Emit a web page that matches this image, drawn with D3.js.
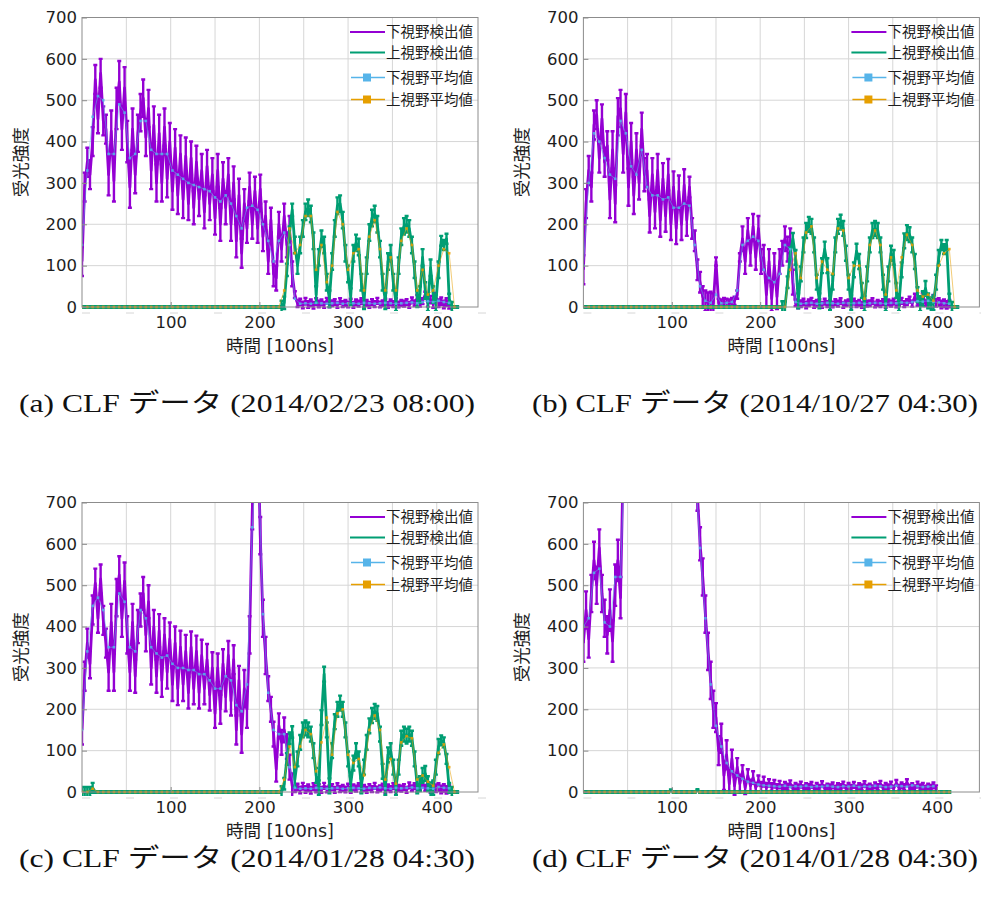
<!DOCTYPE html>
<html>
<head>
<meta charset="utf-8">
<script src="https://cdn.jsdelivr.net/npm/d3@7"></script>
<style>
  body { margin: 0; background: #fff; }
  svg { display: block; }
</style>
</head>
<body>
<svg id="chart"></svg>
<script>
var xStep = 3;     // detected values: one every 3 [100ns]
var avgStep = 6;   // averages: one every 6 [100ns]
var errStep = 15;  // error bar half widths: one every 15 [100ns]

var yTicks = [0, 100, 200, 300, 400, 500, 600, 700];
var xTicks = [100, 200, 300, 400];
var legendNames = ['下視野検出値', '上視野検出値', '下視野平均値', '上視野平均値'];
var captions = [
    '(a) CLF データ (2014/02/23 08:00)',
    '(b) CLF データ (2014/10/27 04:30)',
    '(c) CLF データ (2014/01/28 04:30)',
    '(d) CLF データ (2014/01/28 04:30)'
];

// (a) 2014/02/23 08:00
var lowA = [
    110,290,350,320,400,550,455,565,450,430,
    320,425,305,480,545,430,530,400,290,430,
    320,420,470,505,410,480,330,440,300,420,
    300,435,310,400,280,385,270,370,260,365,
    250,360,240,350,260,330,230,340,250,320,
    215,330,200,310,240,320,200,300,160,270,
    130,250,190,290,200,280,190,285,170,220,
    110,210,80,70,200,140,220,150,190,80,
    30,8,
    12,5,14,6,10,4,13,7,11,5,
    15,6,9,12,5,14,7,10,6,13,
    5,11,8,14,6,10,5,12,7,15,
    6,9,13,5,11,7,14,6,10,8,
    12,5,16,9,22,8,14,30,10,18,
    7,25,9,14,6,12,5
];
var upA = [
    0,0,0,0,0,0,0,0,0,0, 0,0,0,0,0,0,0,0,0,0, 0,0,0,0,0,0,0,0,0,0,
    0,0,0,0,0,0,0,0,0,0, 0,0,0,0,0,0,0,0,0,0, 0,0,0,0,0,0,0,0,0,0,
    0,0,0,0,0,0,0,0,0,0, 0,0,0,0,0,0,
    10,90,180,235,150,100,150,190,230,240,
    225,160,30,120,165,150,60,20,110,190,
    245,250,210,130,80,25,130,155,145,60,
    15,100,180,215,225,200,140,60,15,110,
    130,60,10,100,170,195,200,190,150,90,
    20,30,120,40,10,95,30,10,90,160,
    150,165,20,0,0,0
];
var lowAvgA = [
    150,330,460,510,500,370,370,490,470,360,
    370,450,450,380,370,370,370,330,320,310,
    300,295,290,285,280,265,255,270,250,220,
    190,240,245,235,200,160,110,160,180,150,
    20,8,
    9,8,10,9,8,9,10,8,9,9,
    8,10,9,8,9,10,9,8,9,10,
    11,9,12,14,12,15,12,10
];
var upAvgA = [
    0,0,0,0,0,0,0,0,0,0, 0,0,0,0,0,0,0,0,0,0, 0,0,0,0,0,0,0,0,0,0,
    0,0,0,0,0,0,0,0,
    40,190,130,150,220,220,90,150,60,100,
    230,200,90,130,140,40,170,210,140,40,
    120,40,160,190,150,40,90,30,40,100,
    140,130,0
];
var lowErrA = [35,35, 50,50, 45,45, 45,45, 40,40, 40,40, 35,35, 30,30, 8,8, 7,7, 7,7, 7,7, 7,7, 9,9, 8];
var upErrA = [2,2, 2,2, 2,2, 2,2, 2,2, 2,2, 2,2, 2,15, 20,20, 20,20, 20,20, 20,20, 20,20, 20,12, 2];

// (b) 2014/10/27 04:30
var lowB = [
    90,250,330,290,440,465,360,455,350,390,
    260,380,250,460,480,370,470,290,400,270,
    380,300,430,320,330,220,320,230,330,210,
    310,220,320,200,290,190,280,200,295,210,
    290,190,160,90,60,25,15,10,12,8,
    110,10,8,12,10,8,12,15,30,120,
    165,110,185,130,195,120,190,110,120,30,
    110,20,100,25,110,130,165,140,160,60,
    10,5,
    8,12,5,10,14,6,9,11,5,13,
    7,10,6,12,8,14,5,9,11,6,
    13,7,10,5,12,8,9,14,6,10,
    7,12,5,11,8,13,6,9,15,7,
    12,18,8,25,10,14,28,9,16,7,
    20,10,12,6,9,5,8
];
var upB = [
    0,0,0,0,0,0,0,0,0,0, 0,0,0,0,0,0,0,0,0,0, 0,0,0,0,0,0,0,0,0,0,
    0,0,0,0,0,0,0,0,0,0, 0,0,0,0,0,0,0,0,0,0, 0,0,0,0,0,0,0,0,0,0,
    0,0,0,0,0,0,0,0,0,0, 0,0,0,0,0,0,0,
    60,130,165,120,15,80,150,185,200,195,
    150,60,15,100,140,100,10,60,150,195,
    205,190,130,60,10,90,135,110,40,8,
    80,150,185,190,185,150,60,8,80,130,
    120,40,8,90,160,180,175,150,110,30,
    8,20,45,15,5,10,60,120,150,140,
    150,20,0,0,0
];
var lowAvgB = [
    100,300,420,400,360,320,310,450,420,340,
    320,380,290,270,270,260,265,240,240,250,
    245,150,50,15,10,30,9,10,12,40,
    150,160,170,160,90,70,60,80,150,140,
    12,8,
    9,10,8,9,10,9,8,10,9,9,
    10,8,9,10,9,8,10,9,11,10,
    12,14,13,15,12,11,9,8
];
var upAvgB = [
    0,0,0,0,0,0,0,0,0,0, 0,0,0,0,0,0,0,0,0,0, 0,0,0,0,0,0,0,0,0,0,
    0,0,0,0,0,0,0,0,
    0,90,130,70,180,195,70,110,90,80,
    190,185,70,100,100,20,150,185,150,30,
    120,40,120,175,150,40,25,30,15,100,
    130,140,0
];
var lowErrB = [35,35, 45,45, 40,40, 38,38, 25,25, 10,10, 30,30, 30,30, 8,8, 7,7, 7,7, 7,7, 7,7, 9,9, 8];
var upErrB = [2,2, 2,2, 2,2, 2,2, 2,2, 2,2, 2,2, 2,14, 18,18, 18,18, 18,18, 18,18, 18,18, 18,12, 2];

// (c) 2014/01/28 04:30
var lowC = [
    150,280,360,310,440,505,420,515,415,360,
    290,410,290,470,525,420,510,380,290,410,
    280,400,440,480,380,460,300,400,280,390,
    270,380,290,370,260,360,250,350,260,340,
    240,350,250,340,240,330,250,320,235,300,
    190,300,200,310,230,330,220,320,150,270,
    140,250,200,380,680,900,900,620,420,330,
    250,200,140,55,160,120,150,110,60,15,
    8,
    12,5,14,6,10,4,13,7,11,5,
    15,6,9,12,5,14,7,10,6,13,
    5,11,8,14,6,10,5,12,7,15,
    6,9,13,5,11,7,14,6,10,8,
    12,5,16,9,14,8,12,18,10,14,
    7,16,9,12,6,10,5,8
];
var upC = [
    0,0,0,0,10,0,0,0,0,0, 0,0,0,0,0,0,0,0,0,0, 0,0,0,0,0,0,0,0,0,0,
    0,0,0,0,0,0,0,0,0,0, 0,0,0,0,0,0,0,0,0,0, 0,0,0,0,0,0,0,0,0,0,
    0,0,0,0,0,0,0,0,0,0, 0,0,0,0,0,0,
    20,80,130,145,30,80,120,150,155,150,
    140,100,40,10,180,285,150,15,100,170,
    200,215,200,150,80,20,70,100,80,15,
    60,120,160,185,195,190,140,50,10,90,
    100,60,10,60,130,140,135,140,130,80,
    15,20,40,45,20,5,10,60,110,125,
    120,80,10,0,0,0
];
var lowAvgC = [
    150,340,450,470,440,350,350,480,460,350,
    340,440,420,350,335,325,330,310,300,300,
    295,295,285,285,270,250,250,280,270,210,
    195,260,640,860,430,240,150,140,140,60,
    10,8,
    9,8,10,9,8,9,10,8,9,10,
    9,8,10,9,11,9,8,10,9,10,
    11,9,10,9,8,12,10,9
];
var upAvgC = [
    0,0,8,0,0,0,0,0,0,0, 0,0,0,0,0,0,0,0,0,0, 0,0,0,0,0,0,0,0,0,0,
    0,0,0,0,0,0,0,0,
    30,110,60,110,150,140,50,120,180,90,
    190,200,90,70,80,40,150,185,150,30,
    80,20,120,135,130,30,40,25,15,95,
    115,60,0
];
var lowErrC = [35,35, 45,45, 40,40, 40,40, 38,38, 35,35, 45,45, 30,30, 8,8, 7,7, 7,7, 7,7, 7,7, 9,9, 8];
var upErrC = [12,2, 2,2, 2,2, 2,2, 2,2, 2,2, 2,2, 2,14, 18,18, 18,18, 18,18, 18,18, 18,18, 18,12, 2];

// (d) 2014/01/28 04:30 (values above 700 are off the chart)
var lowD = [
    360,440,370,480,560,500,590,480,420,380,
    440,365,500,560,470,800,950,
    980,1020,950,1000,1050,990,1010,1060,1000,1040,
    1080,1030,1070,1100,1050,1090,1040,1000,1030,970,
    940,960,900,870,820,780,
    720,600,520,430,340,270,200,180,100,130,
    40,90,20,80,15,60,20,50,10,40,
    15,35,10,28,12,25,10,22,12,
    20,10,18,9,16,12,20,8,15,11,
    18,9,14,12,17,8,15,10,19,9,
    13,11,16,8,14,12,18,9,15,10,
    17,8,14,11,19,10,13,9,16,12,
    20,9,15,11,18,8,22,10,16,12,
    24,10,14,9,18,11,15,8,13,10,
    16,9
];
var upD = [
    0,0,0,0,0,0,0,0,0,0, 0,0,0,0,0,0,0,0,0,0, 0,0,0,0,0,0,0,0,0,0,
    0,0,0,4,0,0,0,0,0,0, 0,0,0,5,0,0,0,0,0,0, 0,0,0,0,0,0,0,0,0,0,
    0,0,0,0,0,0,0,0,0,0, 0,0,0,0,0,0,0,0,0,0, 0,0,0,0,0,0,0,0,0,0,
    0,0,0,0,0,0,0,0,0,0, 0,0,0,0,0,0,0,0,0,0, 0,0,0,0,0,0,0,0,0,0,
    0,0,0,0,0,0,0,0,0,0, 0,0,0,0,0,0,0,0,0
];
var lowAvgD = [
    400,420,530,540,410,400,520,520,900,
    1000,1010,1040,1050,1060,1080,1070,1050,1020,980,930,880,800,
    590,420,260,160,110,70,50,40,32,25,22,18,16,15,
    14,13,15,12,14,13,15,12,14,13,
    15,13,12,14,13,15,12,14,13,15,
    14,12,13,15,14,13,16,14,12,13,
    14
];
var upAvgD = [
    0,0,0,0,0,0,0,0,0,0, 0,0,0,0,0,0,0,0,0,0, 0,0,0,0,0,0,0,0,0,0,
    0,0,0,0,0,0,0,0,0,0, 0,0,0,0,0,0,0,0,0,0, 0,0,0,0,0,0,0,0,0,0,
    0,0,0,0,0,0,0,0,0,0
];
var lowErrD = [45,45, 50,50, 50,50, 50,50, 40,45, 35,22, 15,12, 9,8, 7,7, 7,7, 7,7, 7,7, 7,7, 7,7, 7];
var upErrD = [2,2, 2,2, 2,2, 2,2, 2,2, 2,2, 2,2, 2,2, 2,2, 2,2, 2,2, 2,2, 2,2, 2,2, 2];

var $svg = {width: 981, height: 899, plotW: 396, plotH: 289.5};
var $colors = {low: '#9400D3', up: '#009E73', lowAvg: '#56B4E9', upAvg: '#E69F00'};
var $font = "'DejaVu Sans', 'Noto Sans CJK JP', sans-serif";
var $capFont = "'Liberation Serif', 'DejaVu Serif', 'Noto Sans CJK JP', serif";

var panels = [
    {low: lowA, up: upA, lowAvg: lowAvgA, upAvg: upAvgA, lowErr: lowErrA, upErr: upErrA,
     left: 82, top: 17.5, xMax: 446.5, capX: 247, capY: 412, capW: 456},
    {low: lowB, up: upB, lowAvg: lowAvgB, upAvg: upAvgB, lowErr: lowErrB, upErr: upErrB,
     left: 583.4, top: 17.5, xMax: 448, capX: 755, capY: 412, capW: 446},
    {low: lowC, up: upC, lowAvg: lowAvgC, upAvg: upAvgC, lowErr: lowErrC, upErr: upErrC,
     left: 82, top: 502.5, xMax: 446.5, capX: 247, capY: 867, capW: 456},
    {low: lowD, up: upD, lowAvg: lowAvgD, upAvg: upAvgD, lowErr: lowErrD, upErr: upErrD,
     left: 583.4, top: 502.5, xMax: 448, capX: 755, capY: 867, capW: 446}
];

function init () {
    var svg = (
        d3.select('svg#chart')
        .attr('width', $svg.width)
        .attr('height', $svg.height)
    );
    $svg.defs = svg.append('defs');
    panels.forEach(function (p, i) {
        drawPanel(svg, p, i);
    });
}

function errAt (errs, t) {
    return errs[Math.min(Math.floor(t / errStep), errs.length - 1)];
}

function toPoints (vals, step) {
    return vals.map(function (v, i) { return {t: i * step, v: v}; });
}

function drawPanel (svg, p, idx) {
    var w = $svg.plotW, h = $svg.plotH;
    var x = d3.scaleLinear().domain([0, p.xMax]).range([0, w]);
    var y = d3.scaleLinear().domain([0, 700]).range([h, 0]);
    var g = svg.append('g').attr('transform', `translate(${p.left},${p.top})`);

    // grid
    var grid = g.append('g').attr('stroke', '#d6d6d6').attr('stroke-width', 1);
    grid.selectAll('line.gx').data(d3.range(50, p.xMax, 50)).join('line')
        .attr('class', 'gx')
        .attr('x1', d => x(d)).attr('x2', d => x(d))
        .attr('y1', 0).attr('y2', h);
    grid.selectAll('line.gy').data(yTicks.slice(1, -1)).join('line')
        .attr('class', 'gy')
        .attr('x1', 0).attr('x2', w)
        .attr('y1', d => y(d)).attr('y2', d => y(d));

    // faint dashes under the x axis
    g.append('line')
        .attr('x1', 0).attr('x2', w + 10)
        .attr('y1', h + 6).attr('y2', h + 6)
        .attr('stroke', '#d6d6d6').attr('stroke-dasharray', '8,36');

    var clipId = 'clip' + idx;
    $svg.defs.append('clipPath').attr('id', clipId)
        .append('rect').attr('x', 0).attr('y', 0).attr('width', w).attr('height', h + 4);
    var plot = g.append('g').attr('clip-path', `url(#${clipId})`);

    drawDetected(plot, toPoints(p.low, xStep), p.lowErr, $colors.low, x, y);
    drawDetected(plot, toPoints(p.up, xStep), p.upErr, $colors.up, x, y);
    drawAverage(plot, toPoints(p.lowAvg, avgStep), $colors.lowAvg, x, y);
    drawAverage(plot, toPoints(p.upAvg, avgStep), $colors.upAvg, x, y);

    // border
    g.append('rect')
        .attr('width', w).attr('height', h)
        .attr('fill', 'none').attr('stroke', '#8c8c8c').attr('stroke-width', 1);

    var ax = g.append('g')
        .attr('transform', `translate(0,${h})`)
        .call(d3.axisBottom(x).tickValues(xTicks).tickSizeInner(-5).tickSizeOuter(0).tickPadding(9));
    var ay = g.append('g')
        .call(d3.axisLeft(y).tickValues(yTicks).tickSizeInner(-5).tickSizeOuter(0).tickPadding(5));
    [ax, ay].forEach(function (a) {
        a.select('.domain').remove();
        a.selectAll('line').attr('stroke', '#8c8c8c');
        a.selectAll('text')
            .attr('font-family', $font)
            .attr('font-size', '16.5px')
            .attr('fill', '#1e1e1e');
    });

    g.append('text')
        .attr('x', w / 2).attr('y', h + 45)
        .attr('text-anchor', 'middle')
        .attr('font-family', $font).attr('font-size', '17.5px').attr('fill', '#1e1e1e')
        .text('時間 [100ns]');
    g.append('text')
        .attr('transform', `translate(-55,${h / 2}) rotate(-90)`)
        .attr('text-anchor', 'middle')
        .attr('font-family', $font).attr('font-size', '17.5px').attr('fill', '#1e1e1e')
        .text('受光強度');

    drawLegend(g, w);

    svg.append('text')
        .attr('x', p.capX).attr('y', p.capY)
        .attr('text-anchor', 'middle')
        .attr('font-family', $capFont).attr('font-size', '26px').attr('fill', '#111')
        .attr('textLength', p.capW).attr('lengthAdjust', 'spacingAndGlyphs')
        .text(captions[idx]);
}

function drawDetected (plot, pts, errs, color, x, y) {
    var bars = pts.map(function (d) {
        var e = errAt(errs, d.t);
        var x0 = x(d.t), y1 = y(d.v - e), y2 = y(d.v + e);
        return `M${x0},${y1}V${y2}M${x0 - 2},${y1}h4M${x0 - 2},${y2}h4`;
    });
    plot.append('path')
        .attr('d', bars.join(''))
        .attr('fill', 'none').attr('stroke', color).attr('stroke-width', 2.4);
    plot.append('path')
        .datum(pts)
        .attr('d', d3.line().x(d => x(d.t)).y(d => y(d.v)))
        .attr('fill', 'none').attr('stroke', color).attr('stroke-width', 2.8)
        .attr('stroke-linejoin', 'round');
}

function drawAverage (plot, pts, color, x, y) {
    plot.append('path')
        .datum(pts)
        .attr('d', d3.line().x(d => x(d.t)).y(d => y(d.v)))
        .attr('fill', 'none').attr('stroke', color).attr('stroke-width', 0.9)
        .attr('opacity', 0.6);
    plot.append('g').selectAll('rect').data(pts).join('rect')
        .attr('x', d => x(d.t) - 1.3).attr('y', d => y(d.v) - 1.3)
        .attr('width', 2.6).attr('height', 2.6)
        .attr('fill', color).attr('opacity', 0.85);
}

function drawLegend (g, w) {
    var rows = [14.5, 35, 60, 82];
    var keys = ['low', 'up', 'lowAvg', 'upAvg'];
    var lg = g.append('g').attr('transform', `translate(${w - 128},0)`);
    keys.forEach(function (k, i) {
        var row = lg.append('g').attr('transform', `translate(0,${rows[i]})`);
        row.append('line')
            .attr('x1', i < 2 ? 0 : 1).attr('x2', 35)
            .attr('stroke', $colors[k]).attr('stroke-width', i < 2 ? 2 : 1.5);
        if (i >= 2) {
            row.append('rect')
                .attr('x', 13).attr('y', -4).attr('width', 8).attr('height', 8)
                .attr('fill', $colors[k]);
        }
        row.append('text')
            .attr('x', 36).attr('dy', '0.36em')
            .attr('font-family', $font).attr('font-size', '14.5px').attr('fill', '#1e1e1e')
            .text(legendNames[i]);
    });
}

init();
</script>
</body>
</html>
